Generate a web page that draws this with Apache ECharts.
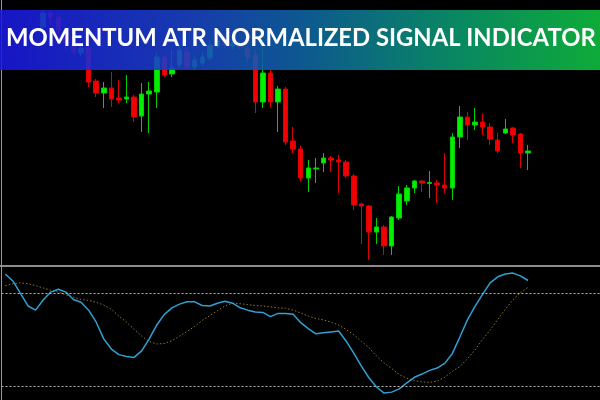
<!DOCTYPE html>
<html>
<head>
<meta charset="utf-8">
<script src="https://cdn.jsdelivr.net/npm/echarts@6/dist/echarts.min.js"></script>
<style>html,body{margin:0;padding:0;background:#000;}#c{width:600px;height:400px;}</style>
</head>
<body>
<div id="c"></div>
<script>
// Price candles (index 0-4 empty: bars above the visible window)
const opens  = ['-','-','-','-','-',238,252,248,235,222,212,217,184,172,177,167,166,168,149,171,173,208,191,200,213,198,202,207,219,225,219,220,217,210,163,192,163,176,124,116,87,96,102,107,105,103,89,61,59,33,38,19,47,64,77,84,81.5,82,80,77,128,148,140,143,138,125,132,137,131,112];
const closes = ['-','-','-','-','-',252,248,235,222,213,217,183,172,177,166,165,168,148,171,174,208,190,197,215,198,205,208,220,224,220,222,218,208,163,192,163,176,123,116,87,97,97,107,105,103,89,60,59,33,38,19,48,71,77,84,82,82.5,80,77,128,148,140,143,138,126,114,136,130,112,114];
const lows   = ['-','-','-','-','-',235,240,230,215,210,209,178,168,157,158,162,162,143,133,132,157,188,188,197,195,195,199,205,217,217,216,215,203,152,157,158,133,120,112,84,73,82,93,93,72,87,55,21,5,21,10,10,45,60,72,73,67,62,72,65,117,125,135,130,120,112,131,122,97,95];
const highs  = ['-','-','-','-','-',255,254,250,237,225,220,220,186,183,193,185,190,170,182,183,213,210,215,220,217,210,213,225,229,229,227,223,220,215,225,195,179,178,138,119,105,107,112,109,110,105,91,62,60,47,40,49,79,80,85,85,94,85,112,132,159,153,157,152,142,132,146,138,132,120];

// Indicator: main line and its signal line
const mainLine = [1.42,1.27,1.00,0.73,0.64,0.86,1.03,1.09,1.03,0.87,0.81,0.64,0.38,0.02,-0.20,-0.32,-0.36,-0.38,-0.24,0.02,0.32,0.55,0.69,0.77,0.82,0.82,0.74,0.73,0.79,0.83,0.79,0.69,0.64,0.60,0.59,0.50,0.57,0.57,0.55,0.37,0.24,0.13,0.15,0.17,0.19,-0.03,-0.29,-0.57,-0.82,-1.02,-1.15,-1.13,-1.06,-0.93,-0.81,-0.74,-0.66,-0.61,-0.51,-0.30,0.06,0.43,0.72,0.98,1.23,1.36,1.42,1.44,1.38,1.28];
const signalLine = [1.17,1.21,1.23,1.21,1.17,1.12,1.07,1.03,0.97,0.92,0.87,0.85,0.81,0.75,0.66,0.51,0.38,0.23,0.08,-0.04,-0.09,-0.08,-0.02,0.08,0.18,0.29,0.42,0.52,0.63,0.73,0.79,0.78,0.76,0.74,0.73,0.71,0.69,0.68,0.64,0.58,0.51,0.46,0.43,0.38,0.32,0.22,0.11,-0.03,-0.17,-0.35,-0.50,-0.62,-0.75,-0.83,-0.88,-0.91,-0.92,-0.89,-0.81,-0.68,-0.58,-0.41,-0.22,0.01,0.21,0.44,0.66,0.86,1.02,1.13];
const levels = [1, -1];
const totalBars = 79;
const titleText = 'MOMENTUM ATR NORMALIZED SIGNAL INDICATOR';

const cats = [];
for (let i = 0; i < totalBars; i++) cats.push(String(i));
const candleData = opens.map((o, i) => o === '-' ? '-' : [o, closes[i], lows[i], highs[i]]);

// fit title font to banner width
const mc = document.createElement('canvas').getContext('2d');
mc.font = 'bold 100px Lato';
const w100 = mc.measureText(titleText).width;
const titleSize = Math.min(30, 100 * 590 / w100);

const chart = echarts.init(document.getElementById('c'), null, {renderer: 'canvas'});
chart.setOption({
  backgroundColor: '#000',
  animation: false,
  grid: [
    {left: 1.5, right: 0, top: 0, height: 265},
    {left: 1.5, right: 0, top: 268, height: 132}
  ],
  xAxis: [
    {type: 'category', data: cats, gridIndex: 0, show: false, boundaryGap: true},
    {type: 'category', data: cats, gridIndex: 1, show: false, boundaryGap: true}
  ],
  yAxis: [
    {type: 'value', gridIndex: 0, min: 0, max: 265, show: false, splitLine: {show: false}},
    {type: 'value', gridIndex: 1, min: -1.3, max: 1.55, show: false, splitLine: {show: false}}
  ],
  series: [
    {
      type: 'candlestick', xAxisIndex: 0, yAxisIndex: 0, data: candleData, barWidth: 5,
      itemStyle: {color: '#00f000', color0: '#f00000', borderColor: '#00d000', borderColor0: '#e00000', borderWidth: 1}
    },
    {
      type: 'line', xAxisIndex: 1, yAxisIndex: 1, data: signalLine, symbol: 'none', z: 2,
      lineStyle: {color: '#8c7a2c', width: 1, type: [1.5, 2]},
      markLine: {
        silent: true, symbol: 'none', label: {show: false},
        lineStyle: {color: '#b8b8b8', width: 1, type: [2, 2]},
        data: levels.map(v => ({yAxis: v}))
      }
    },
    {
      type: 'line', xAxisIndex: 1, yAxisIndex: 1, data: mainLine, symbol: 'none', z: 3,
      lineStyle: {color: '#2fa0d4', width: 1.5}
    }
  ],
  graphic: [
    {type: 'rect', shape: {x: 0, y: 265, width: 600, height: 2}, style: {fill: '#8c8c8c'}, z: 10},
    {type: 'rect', shape: {x: 1, y: 0, width: 1, height: 400}, style: {fill: '#9a9a9a'}, z: 10},
    {type: 'rect', shape: {x: 0, y: 10, width: 600, height: 60}, z: 20,
      style: {
        opacity: 0.88,
        fill: new echarts.graphic.LinearGradient(0, 0, 1, 0, [
          {offset: 0, color: '#1a18e0'},
          {offset: 0.3, color: '#1a40c8'},
          {offset: 0.5, color: '#0f64a4'},
          {offset: 0.75, color: '#0a9870'},
          {offset: 1, color: '#10c240'}
        ])
      }
    },
    {type: 'text', x: 6, y: 38, z: 21,
      style: {text: titleText, fill: '#fff', font: 'bold ' + titleSize.toFixed(2) + 'px Lato', textVerticalAlign: 'middle', verticalAlign: 'middle'}
    }
  ]
});
</script>
</body>
</html>
